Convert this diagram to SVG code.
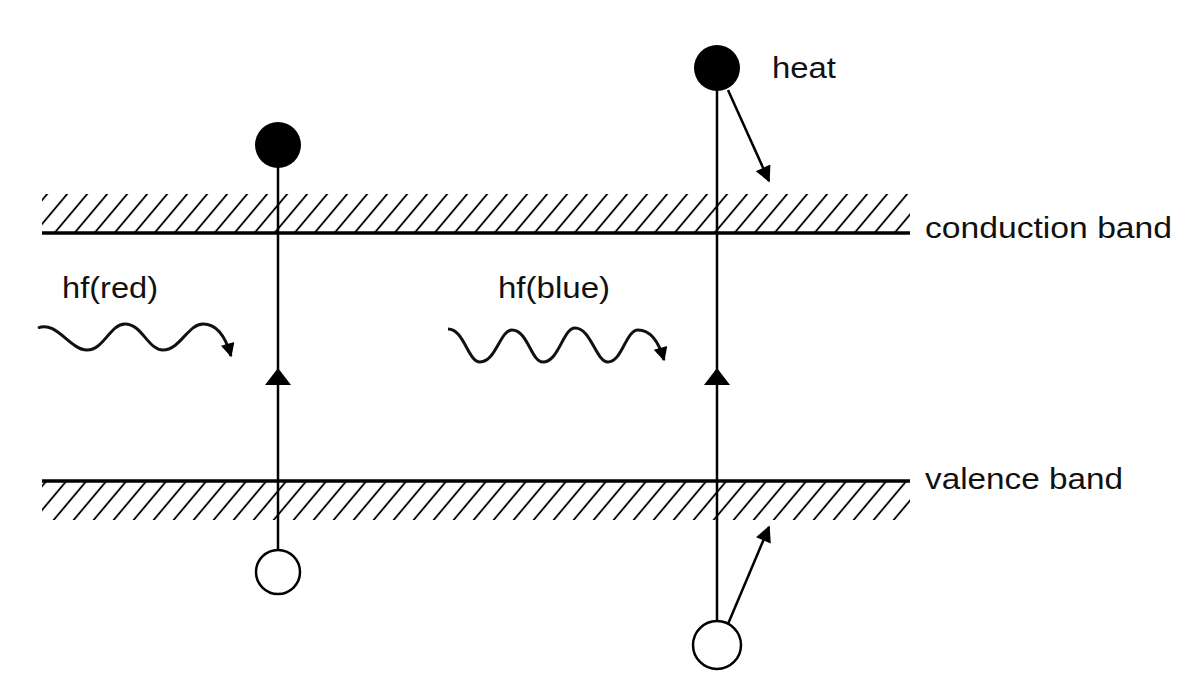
<svg xmlns="http://www.w3.org/2000/svg" width="1203" height="684" viewBox="0 0 1203 684">
<style>
.ln{stroke:#000;fill:none;stroke-linecap:butt}
.band{stroke:#000;stroke-width:3.5}
.vert{stroke:#000;stroke-width:2.5}
.wave{stroke:#111;stroke-width:3;fill:none}
.lbl{font-family:"Liberation Sans",Arial,sans-serif;font-size:30px;fill:#111}
</style>
<defs>
<pattern id="hatch" patternUnits="userSpaceOnUse" width="20" height="40" patternTransform="skewX(-40)">
<line x1="10" y1="-2" x2="10" y2="42" stroke="#000" stroke-width="2.4"/>
</pattern>
<marker id="ah" viewBox="0 0 10 10" refX="9" refY="5" markerWidth="18" markerHeight="16" markerUnits="userSpaceOnUse" orient="auto">
<path d="M0,0 L10,5 L0,10 z" fill="#000"/>
</marker>
<marker id="wh" viewBox="0 0 10 10" refX="9" refY="5" markerWidth="16" markerHeight="14" markerUnits="userSpaceOnUse" orient="auto">
<path d="M0,0 L10,5 L0,10 z" fill="#000"/>
</marker>
</defs>
<rect width="1203" height="684" fill="#fff"/>
<g id="conduction-band">
<rect x="42" y="194" width="868" height="38" fill="url(#hatch)"/>
<line class="band" x1="42" y1="233" x2="910" y2="233"/>
<text class="lbl" x="925" y="238" textLength="247" lengthAdjust="spacingAndGlyphs">conduction band</text>
</g>
<g id="valence-band">
<rect x="42" y="482" width="868" height="38" fill="url(#hatch)"/>
<line class="band" x1="42" y1="481" x2="910" y2="481"/>
<text class="lbl" x="925" y="489" textLength="198" lengthAdjust="spacingAndGlyphs">valence band</text>
</g>
<g id="electron-1">
<circle cx="278" cy="145" r="23" fill="#000"/>
</g>
<g id="hole-1">
<circle cx="278" cy="572" r="22" fill="#fff" stroke="#000" stroke-width="2.5"/>
</g>
<g id="electron-2">
<circle cx="717" cy="68" r="23" fill="#000"/>
<text class="lbl" x="772" y="78" textLength="64" lengthAdjust="spacingAndGlyphs">heat</text>
</g>
<g id="hole-2">
<circle cx="717" cy="645" r="24" fill="#fff" stroke="#000" stroke-width="2.5"/>
</g>
<g id="photon-red">
<text class="lbl" x="62" y="298" textLength="96" lengthAdjust="spacingAndGlyphs">hf(red)</text>
</g>
<g id="photon-blue">
<text class="lbl" x="498" y="298" textLength="112" lengthAdjust="spacingAndGlyphs">hf(blue)</text>
</g>
<g id="connectors">
<line class="vert" x1="278" y1="160" x2="278" y2="550"/>
<path d="M278,368 L291,385 L265,385 z" fill="#000"/>
<line class="vert" x1="717" y1="85" x2="717" y2="621"/>
<path d="M717,368 L730,385 L704,385 z" fill="#000"/>
<line class="ln" stroke-width="2.5" x1="728" y1="90" x2="769" y2="181" marker-end="url(#ah)"/>
<line class="ln" stroke-width="2.5" x1="728" y1="624" x2="769" y2="527" marker-end="url(#ah)"/>
<path class="wave" d="M38,328 C56,320 70,350 87,350 C104,350 110,324 125,324 C142,324 148,350 163,350 C180,350 188,324 203,324 C218,324 226,338 231,356" marker-end="url(#wh)"/>
<path class="wave" d="M448,329 C464,329 468,362 480,362 C496,362 500,330 512,330 C528,330 531,362 543,362 C559,362 563,328 575,328 C591,328 596,362 608,362 C622,362 626,330 638,330 C652,330 660,346 664,360" marker-end="url(#wh)"/>
</g>
</svg>
